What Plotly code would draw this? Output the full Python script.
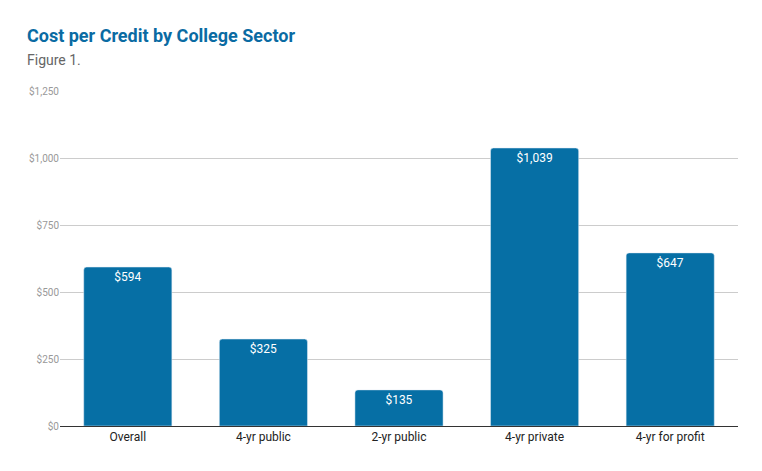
import plotly.graph_objects as go

sectors = ["Overall", "4-yr public", "2-yr public", "4-yr private", "4-yr for profit"]
cost = [594, 325, 135, 1039, 647]
tick_vals = [0, 250, 500, 750, 1000, 1250]
tick_text = ["$0", "$250", "$500", "$750", "$1,000", "$1,250"]

W, H = 762, 471
L, R, T, B = 52, 32, 83, 53

fig = go.Figure(go.Bar(
    x=sectors, y=cost,
    marker=dict(color="#066fa5", cornerradius=3),
    text=[f"${v:,}" for v in cost],
    textposition="inside", insidetextanchor="end",
    textfont=dict(color="white", size=12, family="Roboto"),
))

fig.update_layout(
    width=W, height=H,
    margin=dict(l=L, r=R, t=T, b=B, autoexpand=False),
    plot_bgcolor="white", paper_bgcolor="white",
    bargap=0.35,
    font=dict(family="Roboto", color="#222"),
    showlegend=False,
)

def px_note(text, x, y, size, color):
    fig.add_annotation(text=text, xref="paper", yref="paper", showarrow=False,
                       xanchor="left", yanchor="middle",
                       x=(x - L) / (W - L - R), y=1 + (T - y) / (H - T - B),
                       font=dict(size=size, color=color))

px_note("<b>Cost per Credit by College Sector</b>", 17, 27, 18, "#0a6ba3")
px_note("Figure 1.", 17, 52, 14, "#666")

fig.update_xaxes(showline=True, linecolor="#333", linewidth=1, tickfont=dict(size=12, color="#222"))
fig.update_yaxes(range=[0, 1252], tickvals=tick_vals, ticktext=tick_text,
                 gridcolor="#cccccc", zeroline=False,
                 tickfont=dict(size=10, color="#999"))

fig.write_html("out.html")
